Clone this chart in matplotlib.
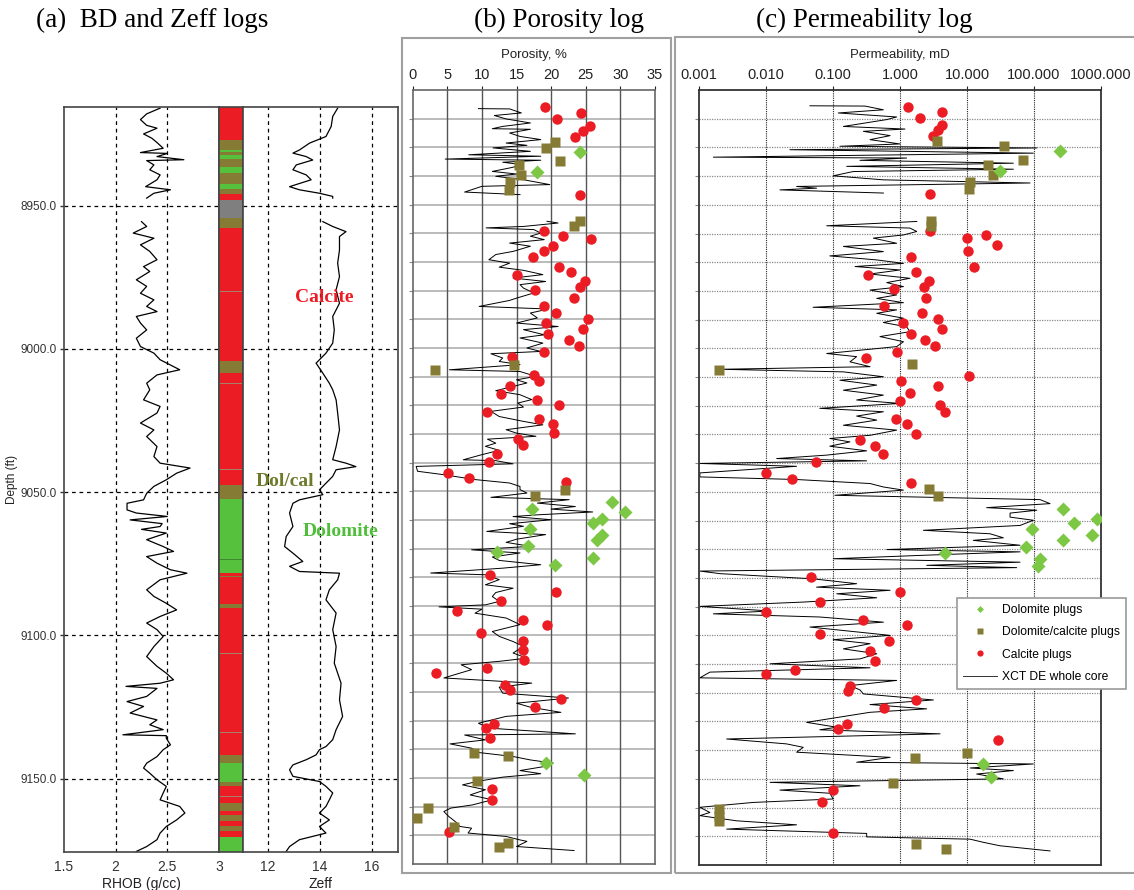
import numpy as np
import matplotlib
matplotlib.use("Agg")
import matplotlib.pyplot as plt
from matplotlib.patches import Rectangle
from matplotlib.lines import Line2D

nan = float("nan")

# ---- panel (a): bulk density / Zeff logs ----
rhob_depth = [8916.0, 8918.0, 8920.0, 8922.0, 8923.0, 8925.0, 8926.5, 8928.0, 8930.0, 8931.5, 8931.8,
              8932.9, 8934.0, 8934.3, 8935.8, 8937.5, 8939.3, 8941.0, 8943.4, 8944.5, 8945.7, 8947.4, nan,
              8955.6, 8957.3, 8959.6, 8961.4, 8963.7, 8966.0, 8968.9, 8971.3, 8973.0, 8975.9, 8978.2,
              8980.6, 8982.9, 8985.2, 8987.0, 8988.7, 8991.0, 8993.4, 8996.3, 8999.2, 9001.5, 9003.8,
              9007.3, 9009.1, 9012.0, 9014.3, 9017.8, 9020.1, 9022.4, 9025.9, 9028.3, 9030.6, 9034.1,
              9037.6, 9039.9, 9041.6, 9043.4, 9045.7, 9048.0, 9050.4, 9052.7, 9053.9, 9056.2, 9057.3,
              9058.5, 9059.7, 9061.0, 9062.0, 9063.0, 9064.3, 9066.6, 9069.0, 9070.7, 9072.5, 9074.8,
              9077.1, 9078.3, 9080.6, 9084.1, 9086.4, 9088.8, 9091.1, 9093.4, 9095.7, 9098.0, 9100.4,
              9103.9, 9107.4, 9110.8, 9113.2, 9115.5, 9116.7, 9117.8, 9118.5, 9121.3, 9123.1, 9124.8,
              9127.1, 9129.5, 9131.2, 9132.9, 9134.7, 9135.0, 9135.9, 9138.2, 9139.9, 9142.3, 9144.6,
              9146.3, 9148.1, 9150.4, 9152.7, 9155.0, 9157.4, 9159.7, 9162.0, 9164.4, 9166.7, 9169.0,
              9171.3, 9173.7, 9175.4]
rhob = [2.43, 2.30, 2.24, 2.30, 2.40, 2.27, 2.35, 2.40, 2.46, 2.24, 2.50,
        2.40, 2.66, 2.30, 2.37, 2.33, 2.43, 2.40, 2.29, 2.53, 2.37, 2.30, nan,
        2.25, 2.30, 2.17, 2.37, 2.24, 2.33, 2.40, 2.27, 2.33, 2.20, 2.30,
        2.24, 2.37, 2.30, 2.40, 2.20, 2.24, 2.30, 2.20, 2.24, 2.37, 2.43,
        2.62, 2.40, 2.30, 2.33, 2.27, 2.43, 2.40, 2.24, 2.37, 2.30, 2.40,
        2.37, 2.43, 2.72, 2.59, 2.49, 2.37, 2.30, 2.27, 2.11, 2.11, 2.20,
        2.50, 2.14, 2.45, 2.43, 2.25, 2.49, 2.30, 2.46, 2.56, 2.30, 2.40,
        2.53, 2.69, 2.43, 2.30, 2.37, 2.49, 2.59, 2.43, 2.30, 2.40, 2.46,
        2.37, 2.30, 2.40, 2.49, 2.56, 2.43, 2.10, 2.40, 2.30, 2.11, 2.27,
        2.14, 2.40, 2.33, 2.46, 2.07, 2.49, 2.49, 2.53, 2.46, 2.40, 2.30,
        2.27, 2.33, 2.40, 2.49, 2.46, 2.43, 2.62, 2.67, 2.59, 2.49, 2.43,
        2.40, 2.30, 2.20]

zeff_depth = [8916.0, 8918.9, 8922.4, 8925.9, 8928.2, 8930.6, 8931.7, 8932.9, 8934.1, 8935.8, 8937.5,
              8939.3, 8941.0, 8943.4, 8944.5, 8945.7, 8946.8, 8947.4, nan,
              8955.6, 8957.3, 8959.1, 8960.8, 8965.5, 8970.1, 8974.8, 8979.4, 8984.1, 8988.7, 8993.4,
              8998.0, 9001.5, 9005.0, 9008.5, 9012.0, 9014.3, 9017.8, 9022.4, 9028.3, 9034.1, 9038.7,
              9039.9, 9041.1, 9042.2, 9044.5, 9046.9, 9049.2, 9050.9, 9052.7, 9053.9, 9057.3, 9062.0,
              9065.5, 9069.0, 9071.3, 9074.2, 9075.9, 9077.7, 9078.3, 9080.6, 9084.1, 9087.6, 9092.2,
              9098.0, 9103.9, 9109.7, 9116.7, 9122.5, 9128.3, 9132.9, 9136.4, 9138.8, 9139.9, 9141.7,
              9143.4, 9145.2, 9146.9, 9149.2, 9151.0, 9152.7, 9155.0, 9157.4, 9159.7, 9162.0, 9164.4,
              9166.7, 9169.0, 9171.3, 9173.7, 9175.4]
zeff = [14.68, 14.49, 14.43, 14.23, 13.60, 13.21, 12.96, 13.47, 13.72, 13.09, 12.96,
        13.47, 13.66, 12.83, 13.21, 13.98, 14.49, 14.49, nan,
        14.11, 14.49, 15.00, 14.75, 14.75, 14.68, 14.75, 14.62, 14.75, 14.49, 14.55,
        14.49, 14.23, 13.85, 14.11, 14.36, 14.49, 14.62, 14.68, 14.75, 14.62, 14.49,
        15.00, 15.38, 14.62, 14.49, 14.23, 13.98, 14.11, 13.21, 12.96, 12.83, 12.96,
        12.70, 12.64, 12.96, 13.34, 12.83, 13.21, 14.75, 14.68, 14.36, 14.23, 14.62,
        14.49, 14.62, 14.55, 14.81, 14.75, 14.87, 14.62, 14.49, 14.23, 13.98, 13.85,
        13.47, 12.96, 12.83, 12.96, 13.98, 14.23, 14.49, 14.36, 14.23, 13.98, 14.36,
        13.98, 14.23, 13.21, 12.83, 12.70]

# lithology column: interval tops, bases and class
litho_top = [8915.0, 8927.1, 8930.6, 8931.2, 8932.3, 8933.7, 8936.6, 8938.7, 8942.5, 8944.2, 8945.9,
             8948.0, 8954.4, 8957.9, 8979.8, 8980.3, 9004.4, 9008.5, 9011.9, 9012.3, 9042.0, 9042.4,
             9047.5, 9052.5, 9073.4, 9073.8, 9078.3, 9079.2, 9079.7, 9089.0, 9090.5, 9106.2, 9106.6,
             9133.7, 9134.1, 9141.7, 9144.6, 9151.0, 9152.7, 9156.0, 9156.4, 9158.5, 9161.4, 9162.6,
             9164.9, 9166.7, 9168.4, 9170.2]
litho_base = litho_top[1:] + [9176.0]
litho_class = ["cal", "dc", "dol", "dc", "dol", "dc", "dol", "dc", "dol", "dc", "cal",
               "gap", "dc", "cal", "thin", "cal", "dc", "cal", "thin", "cal", "thin", "cal",
               "dc", "dol", "dk", "dol", "cal", "dc", "cal", "dc", "cal", "thin", "cal",
               "thin", "cal", "dc", "dol", "dc", "cal", "thin", "cal", "dc", "cal", "dc",
               "cal", "dc", "cal", "dol"]

# ---- panel (b): porosity ----
poro_depth = [8916.5, 8916.6, 8918.0, 8918.9, 8920.1, 8921.5, 8922.7, 8923.5, 8923.7, 8925.0, 8926.2,
              8927.3, 8928.5, 8929.3, 8930.2, 8931.4, 8932.6, 8933.1, 8934.1, 8934.5, 8935.2, 8936.1,
              8937.2, 8938.4, 8939.3, 8940.1, 8941.3, 8943.0, 8943.6, 8944.8, 8945.6, 8946.5, nan,
              8955.8, 8956.4, 8957.6, 8958.1, 8958.7, 8959.9, 8961.0, 8962.2, 8963.4, 8964.5, 8966.3,
              8967.4, 8969.2, 8970.4, 8971.8, 8972.9, 8974.4, 8975.6, 8976.8, 8977.9, 8979.1, 8980.8,
              8982.6, 8983.4, 8985.5, 8986.4, 8987.8, 8989.5, 8991.3, 8992.5, 8993.6, 8995.4, 8996.5,
              8998.3, 9000.0, 9001.2, 9002.0, 9003.5, 9004.7, 9005.8, 9007.6, 9008.2, 9009.9, 9011.1,
              9012.2, 9013.4, 9014.9, 9016.3, 9018.0, 9019.2, 9020.6, 9022.1, 9023.9, 9025.6, 9026.8,
              9028.5, 9029.7, 9030.8, 9031.8, 9033.2, 9034.3, 9035.7, 9037.2, 9039.0, 9039.3, 9040.4,
              9041.3, 9043.0, 9044.2, 9045.9, 9047.1, 9048.3, 9049.4, 9050.6, 9052.1, 9052.9, 9054.1,
              9055.3, 9056.2, 9057.2, 9058.2, 9058.8, 9059.9, 9061.3, 9062.2, 9064.0, 9065.1, 9066.7,
              9067.8, 9069.2, 9070.4, 9071.5, 9072.9, 9074.1, 9075.6, 9076.8, 9078.5, 9079.1, 9080.8,
              9082.6, 9083.8, 9085.3, 9086.7, 9088.4, 9089.6, 9090.3, 9091.1, 9092.5, 9094.2, 9096.5,
              9098.9, 9100.6, 9102.4, 9104.1, 9106.4, 9108.2, 9109.3, 9110.5, 9112.2, 9115.1, 9116.9,
              9118.3, 9120.4, 9122.1, 9123.9, 9125.3, 9127.1, 9128.5, 9130.9, 9132.6, 9134.6, 9135.0,
              9136.7, 9138.1, 9139.6, 9141.1, 9142.5, 9143.7, 9144.8, 9146.0, 9147.4, 9148.5, 9149.7,
              9151.2, 9152.4, 9154.1, 9155.9, 9157.6, 9159.4, 9160.5, 9161.7, 9163.4, 9165.5, 9166.9,
              9167.5, 9169.2, 9170.4, 9171.6, 9172.1, 9173.9, 9175.3]
poro = [9.5, 14.0, 15.7, 11.8, 13.5, 17.0, 13.0, 11.5, 17.0, 14.0, 15.5,
        18.5, 13.5, 16.5, 11.6, 17.0, 8.1, 18.5, 4.7, 18.5, 13.0, 16.0,
        14.0, 11.5, 15.0, 12.0, 16.0, 19.8, 10.0, 8.5, 7.5, 15.5, nan,
        19.4, 21.0, 16.0, 10.6, 17.5, 18.5, 17.0, 19.0, 14.0, 17.0, 14.5,
        12.0, 11.0, 14.0, 12.5, 16.0, 18.8, 14.5, 19.2, 15.5, 16.0, 17.5,
        15.0, 14.0, 9.6, 19.6, 17.0, 18.0, 15.0, 21.0, 16.0, 19.0, 15.5,
        18.8, 16.5, 18.5, 11.3, 13.0, 12.5, 15.5, 5.3, 15.5, 17.8, 15.0,
        16.5, 14.5, 12.0, 15.5, 17.2, 15.2, 16.0, 11.3, 12.5, 16.0, 18.8,
        13.5, 15.0, 17.8, 10.8, 12.0, 10.5, 12.5, 10.0, 7.3, 12.0, 14.5,
        0.5, 0.7, 4.5, 9.0, 14.0, 15.5, 15.5, 16.5, 11.3, 22.6, 18.0,
        23.5, 20.0, 26.0, 18.0, 14.5, 20.0, 14.0, 16.0, 10.7, 19.2, 15.0,
        13.5, 17.0, 8.5, 15.5, 11.5, 12.5, 18.5, 13.0, 2.6, 10.5, 12.5,
        10.5, 14.5, 12.0, 11.5, 12.5, 10.5, 3.8, 10.0, 9.0, 13.5, 15.5,
        11.5, 12.5, 14.5, 16.0, 14.5, 16.5, 12.5, 7.0, 8.5, 4.5, 17.2,
        12.5, 13.0, 22.5, 15.0, 17.0, 21.4, 13.5, 9.5, 11.0, 23.5, 7.5,
        10.5, 5.4, 8.5, 9.5, 14.5, 17.0, 20.3, 19.0, 15.5, 18.5, 13.0,
        9.3, 7.2, 10.5, 8.3, 11.5, 8.6, 5.5, 4.5, 5.2, 6.3, 6.8,
        8.5, 8.0, 13.5, 15.5, 16.5, 15.0, 23.3]

cal_poro_depth = [8916.0, 8918.0, 8920.1, 8922.6, 8924.4, 8926.3, 8946.7, 8959.2, 8960.8, 8962.1, 8964.4,
                  8966.2, 8968.3, 8971.6, 8973.6, 8974.5, 8976.8, 8978.8, 8979.7, 8982.7, 8985.2, 8987.8,
                  8989.9, 8991.4, 8993.3, 8995.0, 8997.3, 8999.2, 9001.4, 9003.3, 9009.4, 9011.5, 9013.3,
                  9015.9, 9018.2, 9020.0, 9022.3, 9024.7, 9026.5, 9029.8, 9031.9, 9034.0, 9036.9, 9039.8,
                  9043.5, 9045.4, 9046.9, 9079.3, 9085.0, 9088.1, 9091.9, 9094.8, 9096.5, 9099.4, 9102.1,
                  9105.3, 9108.9, 9111.8, 9113.3, 9117.5, 9119.3, 9122.4, 9125.3, 9131.0, 9132.4, 9136.1,
                  9153.8, 9157.8, 9169.0]
cal_poro = [19.1, 24.3, 20.9, 25.6, 24.6, 23.4, 24.1, 18.9, 21.7, 25.7, 20.3,
            19.0, 17.4, 21.1, 22.9, 15.1, 24.9, 24.2, 17.6, 23.3, 18.9, 20.7,
            25.3, 19.3, 24.6, 19.5, 22.6, 24.0, 19.0, 14.3, 17.5, 18.2, 14.0,
            12.7, 17.9, 21.2, 10.8, 18.3, 20.3, 20.4, 15.2, 15.9, 12.2, 11.0,
            5.1, 8.2, 22.1, 11.1, 20.7, 12.7, 6.4, 15.9, 19.4, 9.9, 16.0,
            16.0, 16.1, 10.7, 3.4, 13.4, 14.1, 21.4, 17.6, 11.7, 10.6, 11.2,
            11.4, 11.5, 5.3]
dc_poro_depth = [8928.1, 8930.1, 8934.6, 8936.3, 8939.8, 8942.2, 8944.9, 8955.6, 8957.6, 9005.9, 9007.7,
                 9049.4, 9051.5, 9141.2, 9142.2, 9151.2, 9160.5, 9163.8, 9167.1, 9172.6, 9174.2]
dc_poro = [20.6, 19.3, 21.3, 15.3, 15.6, 14.1, 13.9, 24.1, 23.3, 14.6, 3.2,
           22.0, 17.6, 8.8, 13.8, 9.3, 2.2, 0.6, 5.9, 13.7, 12.5]
dol_poro_depth = [8931.6, 8938.7, 9053.8, 9056.0, 9057.2, 9059.6, 9061.0, 9063.3, 9065.1, 9066.9, 9069.2,
                  9071.3, 9073.4, 9075.8, 9144.8, 9149.1]
dol_poro = [24.2, 17.9, 28.8, 17.3, 30.6, 27.4, 26.1, 16.9, 27.4, 26.6, 16.7,
            12.2, 26.0, 20.6, 19.2, 24.7]

# ---- panel (c): permeability (mD) ----
perm_depth = [8915.5, 8915.6, 8916.9, 8918.0, 8919.4, 8920.3, 8922.7, 8923.6, 8924.4, 8925.9, 8927.3,
              8928.8, 8929.6, 8930.2, 8930.8, 8932.0, 8933.4, 8933.7, 8934.5, 8935.5, 8936.6, 8937.6,
              8938.4, 8939.9, 8941.3, 8942.4, 8943.6, 8944.2, 8944.8, 8945.9, nan,
              8955.8, 8957.3, 8958.1, 8959.3, 8960.5, 8961.6, 8963.4, 8964.5, 8966.3, 8967.8, 8969.2,
              8970.4, 8971.5, 8972.7, 8974.1, 8975.6, 8977.1, 8978.5, 8979.7, 8981.4, 8982.6, 8984.1,
              8985.7, 8986.6, 8987.8, 8989.5, 8991.0, 8992.5, 8994.2, 8995.9, 8997.7, 8999.4, 9001.8,
              9002.9, 9004.7, 9006.4, 9007.3, 9008.2, 9009.9, 9011.1, 9012.8, 9014.6, 9016.3, 9018.0,
              9019.2, 9020.9, 9022.1, 9023.6, 9025.0, 9026.8, 9028.5, 9030.3, 9031.4, 9032.6, 9034.1,
              9035.7, 9037.2, 9038.4, 9039.2, 9040.1, 9041.1, 9043.4, 9044.8, 9045.7, 9047.1, 9048.3,
              9049.4, 9051.2, 9052.7, 9054.1, 9055.5, 9056.4, 9057.4, 9058.8, 9059.9, 9061.7, 9063.4,
              9064.6, 9066.0, 9066.9, 9068.6, 9070.1, 9070.9, 9072.1, 9073.3, 9074.5, 9075.6, 9076.4,
              9077.6, 9078.5, 9080.3, 9082.0, 9083.2, 9084.3, 9085.5, 9086.9, 9088.4, 9089.9, 9091.5,
              9092.5, 9093.6, 9095.4, 9097.1, 9098.3, 9100.0, 9101.5, 9102.9, 9104.7, 9106.4, 9108.2,
              9109.9, 9111.3, 9112.8, 9114.8, 9115.7, 9117.5, 9119.0, 9120.4, 9122.5, 9124.1, 9125.6,
              9126.8, 9130.3, 9132.0, 9132.9, 9134.3, 9136.1, 9137.8, 9139.0, 9140.7, 9142.5, 9144.2,
              9144.8, 9146.2, 9147.1, 9148.3, 9150.0, 9151.2, 9152.4, 9153.9, 9155.0, 9157.0, 9158.2,
              9159.9, 9161.7, 9162.8, 9164.6, 9166.0, 9167.5, 9169.0, 9170.2, 9171.0, 9172.1, 9173.3,
              9175.1]
perm = [0.045, 0.299, 0.562, 0.119, 0.887, 0.631, 0.142, 1.18, 0.282, 0.708, 0.355,
        0.995, 0.126, 110, 0.0225, 97.7, 0.00162, 1.25, 0.251, 49.1, 0.159, 49.1,
        0.20, 0.10, 0.562, 87.1, 0.0284, 0.0564, 0.016, 0.562, nan,
        1.77, 0.080, 1.40, 1.77, 1.12, 0.398, 0.887, 0.142, 0.562, 0.089, 0.447,
        1.12, 0.212, 0.995, 0.355, 1.40, 0.631, 1.12, 0.355, 0.887, 0.447, 1.12,
        0.050, 0.887, 0.447, 1.12, 0.562, 1.25, 1.40, 0.50, 1.12, 0.887, 0.080,
        0.224, 0.178, 0.355, 0.00204, 0.142, 0.562, 0.126, 0.447, 0.142, 0.562, 0.224,
        0.995, 0.063, 0.562, 0.224, 0.447, 0.142, 0.887, 0.355, 0.089, 0.178, 0.089,
        0.316, 0.080, 0.0143, 0.316, 0.00102, 0.0284, 0.00102, 0.00102, 0.0284, 0.355, 0.562,
        1.12, 0.106, 123, 173, 19.6, 110, 43.8, 43.8, 97.7, 61.8, 2.22,
        22.0, 34.8, 12.4, 61.8, 0.631, 61.8, 2.22, 0.10, 61.8, 2.49, 55.1,
        0.00102, 0.00204, 0.050, 0.224, 0.0564, 0.708, 0.113, 0.447, 0.0357, 0.00102, 0.0114,
        0.00162, 0.063, 0.562, 0.045, 0.142, 0.708, 0.10, 0.355, 0.142, 0.447, 0.251,
        0.0114, 0.355, 0.00144, 0.00102, 0.887, 0.178, 0.251, 0.282, 3.14, 0.355, 2.49,
        0.355, 0.040, 0.113, 0.063, 3.95, 0.00256, 0.020, 0.0357, 0.0284, 0.708, 0.224,
        97.7, 11.1, 49.1, 13.9, 34.8, 0.0114, 0.251, 0.016, 0.089, 0.10, 0.0064,
        0.00102, 0.00144, 0.00102, 0.0036, 0.0284, 0.00256, 0.316, 0.316, 11.1, 17.5, 31.0,
        173]

cal_perm_depth = [8915.8, 8917.6, 8919.8, 8922.1, 8923.8, 8925.9, 8946.4, 8959.1, 8960.6, 8961.7, 8964.1,
                  8966.1, 8968.1, 8971.5, 8974.4, 8973.5, 8976.4, 8978.6, 8979.4, 8982.5, 8985.2, 8987.7,
                  8989.7, 8991.3, 8993.3, 8994.9, 8997.2, 8999.1, 9001.3, 9003.3, 9009.7, 9011.3, 9013.2,
                  9015.5, 9018.2, 9019.9, 9022.1, 9024.6, 9026.4, 9029.7, 9031.8, 9034.1, 9036.9, 9039.6,
                  9043.6, 9045.4, 9046.9, 9079.5, 9085.0, 9088.2, 9092.0, 9094.5, 9096.5, 9099.5, 9102.1,
                  9105.3, 9108.9, 9112.0, 9113.5, 9117.5, 9119.5, 9122.4, 9125.3, 9131.0, 9132.6, 9136.4,
                  9153.8, 9158.0, 9169.0]
cal_perm = [1.33, 4.18, 1.96, 4.18, 3.72, 3.13, 2.79, 2.79, 19.4, 9.86, 27.7,
            10.2, 1.44, 12.6, 0.335, 1.71, 2.67, 2.27, 0.80, 2.41, 0.567, 2.15,
            3.64, 1.09, 4.28, 1.45, 2.38, 3.36, 0.897, 0.309, 10.7, 1.04, 3.64,
            1.42, 1.01, 3.95, 4.63, 0.867, 1.28, 1.75, 0.251, 0.426, 0.561, 0.0553,
            0.010, 0.0246, 1.47, 0.046, 0.984, 0.0642, 0.010, 0.282, 1.28, 0.0628, 0.682,
            0.359, 0.421, 0.0272, 0.010, 0.180, 0.164, 1.71, 0.580, 0.159, 0.119, 29.3,
            0.1005, 0.0689, 0.0994]
dc_perm_depth = [8927.7, 8929.6, 8934.3, 8936.0, 8939.5, 8942.0, 8944.5, 8955.5, 8957.3, 9005.6, 9007.5,
                 9049.1, 9051.5, 9141.1, 9142.6, 9151.4, 9160.5, 9162.8, 9164.6, 9172.7, 9174.4]
dc_perm = [3.52, 36.1, 69.3, 20.3, 24.1, 11.1, 10.8, 2.86, 2.86, 1.52, 0.0020,
           2.67, 3.72, 9.86, 1.67, 0.774, 0.0020, 0.0020, 0.0020, 1.71, 4.90]
dol_perm_depth = [8931.2, 8938.1, 9055.8, 9059.6, 9060.8, 9063.1, 9065.1, 9066.9, 9069.2, 9071.3, 9073.3,
                  9075.8, 9144.8, 9149.5]
dol_perm = [245, 31.0, 274, 874, 401, 94.4, 728, 274, 75.9, 4.73, 123,
            116, 17.5, 22.5]

RED = "#ec1c24"
OLIVE = "#857b34"
GREEN = "#55c13d"
GREEN_PT = "#7cc744"
litho_colors = {"cal": RED, "dc": OLIVE, "dol": GREEN, "gap": "#7f7f7f",
                "thin": "#a9806a", "dk": "#3d8a30"}

SANS = "Liberation Sans"
SERIF = "Liberation Serif"
plt.rcParams["font.family"] = SANS

W, H = 1134, 890
fig = plt.figure(figsize=(W / 100, H / 100), dpi=100)


def px_rect(l, t, r, b):
    return [l / W, 1 - b / H, (r - l) / W, (b - t) / H]


# ---------------- panel (a) ----------------
a_top, a_bot = 8915.6, 9175.6
axR = fig.add_axes(px_rect(64, 107, 219, 852))
axL = fig.add_axes(px_rect(219, 107, 243, 852))
axZ = fig.add_axes(px_rect(243, 107, 398, 852))

for ax in (axR, axL, axZ):
    ax.set_ylim(a_bot, a_top)
    for s in ax.spines.values():
        s.set_color("#444444")
        s.set_linewidth(1.2)

dash = dict(color="black", linestyle=(0, (3, 3)), linewidth=0.9)

axR.plot(rhob, rhob_depth, color="black", lw=0.9)
axR.set_xlim(1.5, 3.0)
axR.set_xticks([1.5, 2, 2.5, 3])
axR.set_xticklabels(["1.5", "2", "2.5", "3"])
axR.set_yticks([8950, 9000, 9050, 9100, 9150])
axR.set_yticklabels(["8950.0", "9000.0", "9050.0", "9100.0", "9150.0"])
axR.tick_params(axis="y", labelsize=8.5, colors="#333333", length=3, width=1, pad=2)
axR.tick_params(axis="x", labelsize=10, colors="#333333", length=0, pad=6)
axR.set_xlabel("RHOB (g/cc)", fontsize=10, color="#222222", labelpad=2)
axR.set_ylabel("Depth (ft)", fontsize=8.5, color="#222222")
axR.yaxis.set_label_coords(-0.297, 0.5)
for xv in (2.0, 2.5):
    axR.axvline(xv, **dash)
for yv in (8950, 9000, 9050, 9100, 9150):
    axR.axhline(yv, **dash)
    axZ.axhline(yv, **dash)

for t, b, c in zip(litho_top, litho_base, litho_class):
    axL.axhspan(t, b, color=litho_colors[c], lw=0)
axL.set_xticks([])
axL.set_yticks([])

axZ.plot(zeff, zeff_depth, color="black", lw=0.9)
axZ.set_xlim(11.04, 17.0)
axZ.set_xticks([12, 14, 16])
axZ.set_yticks([])
axZ.tick_params(axis="x", labelsize=10, colors="#333333", length=0, pad=6)
axZ.set_xlabel("Zeff", fontsize=10, color="#222222", labelpad=2)
for xv in (12, 14, 16):
    axZ.axvline(xv, **dash)

fig.text(324 / W, 1 - 298 / H, "Calcite", color=RED, family=SERIF, weight="bold",
         fontsize=14, ha="center", va="center", zorder=10)
fig.text(285 / W, 1 - 481 / H, "Dol/cal", color="#6e7a2a", family=SERIF, weight="bold",
         fontsize=14, ha="center", va="center", zorder=10)
fig.text(341 / W, 1 - 532 / H, "Dolomite", color="#4fbf3a", family=SERIF, weight="bold",
         fontsize=14, ha="center", va="center", zorder=10)

# ---------------- panel (b) ----------------
grid_depths = list(range(8920, 9180, 10))
axP = fig.add_axes(px_rect(412.7, 90, 655, 864))
axP.set_xlim(0, 35)
axP.set_ylim(9180, 8910)
for yv in grid_depths:
    axP.axhline(yv, color="#a8a8a8", lw=1.1, zorder=0)
for xv in range(5, 35, 5):
    axP.axvline(xv, color="#555555", lw=1.0, zorder=0)
axP.plot(poro, poro_depth, color="black", lw=0.7, zorder=2)
axP.plot(cal_poro, cal_poro_depth, "o", color=RED, ms=7.5, mec="none", zorder=3)
axP.plot(dc_poro, dc_poro_depth, "s", color=OLIVE, ms=7.5, mec="none", zorder=3)
axP.plot(dol_poro, dol_poro_depth, "D", color=GREEN_PT, ms=7.5, mec="none", zorder=3)
axP.xaxis.tick_top()
axP.xaxis.set_label_position("top")
axP.set_xticks(range(0, 40, 5))
axP.tick_params(axis="x", labelsize=10.5, colors="#222222", length=3, pad=3)
axP.set_xlabel("Porosity, %", fontsize=9.5, color="#222222", labelpad=7)
axP.set_yticks(grid_depths)
axP.set_yticklabels([])
axP.tick_params(axis="y", length=3, colors="#888888")
for s in axP.spines.values():
    s.set_color("#666666")
    s.set_linewidth(1.2)

# ---------------- panel (c) ----------------
axK = fig.add_axes(px_rect(699.3, 90, 1101, 865))
axK.set_xscale("log")
axK.set_xlim(0.001, 1000)
axK.set_ylim(9180, 8910)
for yv in grid_depths:
    axK.axhline(yv, color="#8a8a8a", lw=0.9, linestyle=(0, (1, 1)), zorder=0)
decades = [0.001, 0.01, 0.1, 1, 10, 100, 1000]
for xv in decades[1:-1]:
    axK.axvline(xv, color="#222222", lw=0.8, linestyle=(0, (1, 1)), zorder=0)
axK.plot(perm, perm_depth, color="black", lw=0.7, zorder=2)
axK.plot(cal_perm, cal_perm_depth, "o", color=RED, ms=7.5, mec="none", zorder=3)
axK.plot(dc_perm, dc_perm_depth, "s", color=OLIVE, ms=7.5, mec="none", zorder=3)
axK.plot(dol_perm, dol_perm_depth, "D", color=GREEN_PT, ms=7.5, mec="none", zorder=3)
axK.xaxis.tick_top()
axK.xaxis.set_label_position("top")
axK.set_xticks(decades)
axK.set_xticklabels(["0.001", "0.010", "0.100", "1.000", "10.000", "100.000", "1000.000"])
axK.minorticks_off()
axK.tick_params(axis="x", labelsize=10.5, colors="#222222", length=3, pad=3)
axK.set_xlabel("Permeability, mD", fontsize=9.5, color="#222222", labelpad=7)
axK.set_yticks(grid_depths)
axK.set_yticklabels([])
axK.tick_params(axis="y", length=3, colors="#888888")
for s in axK.spines.values():
    s.set_color("#333333")
    s.set_linewidth(1.3)

handles = [
    Line2D([], [], marker="D", color=GREEN_PT, ls="none", ms=3.5, mec="none"),
    Line2D([], [], marker="s", color=OLIVE, ls="none", ms=4.5, mec="none"),
    Line2D([], [], marker="o", color=RED, ls="none", ms=4.5, mec="none"),
    Line2D([], [], color="#333333", lw=0.7),
]
labels = ["Dolomite plugs", "Dolomite/calcite plugs", "Calcite plugs", "XCT DE whole core"]
leg = fig.legend(handles, labels, loc="upper left", bbox_to_anchor=(957 / W, 1 - 598 / H),
                 bbox_transform=fig.transFigure, fontsize=8.7, frameon=True, fancybox=False,
                 edgecolor="#9a9a9a", framealpha=1, labelspacing=0.85, handlelength=2.8,
                 handletextpad=0.4, borderaxespad=0, borderpad=0.5)
leg.get_frame().set_linewidth(1.2)

# outer boxes around panels b and c
fig.patches.append(Rectangle((401.7 / W, 1 - 873 / H), (671 - 401.7) / W, (873 - 38) / H,
                             transform=fig.transFigure, fill=False, ec="#a0a0a0", lw=1.5))
fig.patches.append(Rectangle((674.5 / W, 1 - 873 / H), (1150 - 674.5) / W, (873 - 37) / H,
                             transform=fig.transFigure, fill=False, ec="#a0a0a0", lw=1.5))

# panel titles
fig.text(36 / W, 1 - 20 / H, "(a)  BD and Zeff logs", family=SERIF, fontsize=19.5, va="center")
fig.text(474 / W, 1 - 20 / H, "(b) Porosity log", family=SERIF, fontsize=19.5, va="center")
fig.text(756 / W, 1 - 20 / H, "(c) Permeability log", family=SERIF, fontsize=19.5, va="center")

fig.savefig("out.png", dpi=100)
